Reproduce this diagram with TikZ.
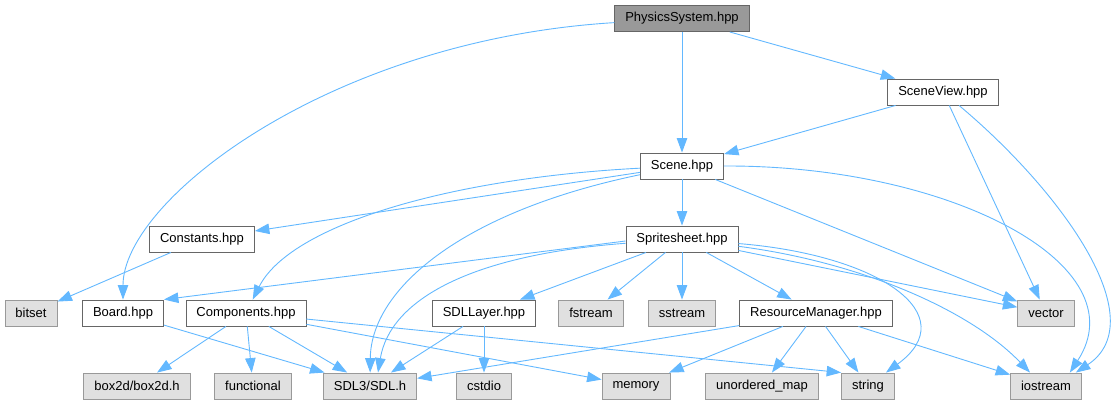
\documentclass[tikz,border=0pt]{standalone}
\usepackage{fontspec}
\setmainfont{Liberation Sans}
\usepackage{xcolor}
\usetikzlibrary{arrows.meta}
\definecolor{edgeblue}{HTML}{63B8FF}
\definecolor{mainfill}{HTML}{999999}
\definecolor{extfill}{HTML}{E0E0E0}
\tikzset{
  file/.style={draw=black!60, fill=white, line width=0.9pt, minimum height=26pt,
    inner xsep=10.5pt, inner ysep=0pt, font=\fontsize{13pt}{15pt}\selectfont},
  mainfile/.style={file, fill=mainfill},
  extfile/.style={file, draw=black!40, fill=extfill},
  dep/.style={-{Triangle[length=14.5pt, width=10.5pt]}, edgeblue, line width=0.9pt},
}
\begin{document}
\begin{tikzpicture}[x=1pt, y=-1pt]
  \path[use as bounding box] (0,0) rectangle (1118,405);
  % headers
  \node[mainfile] (phys) at (682,18.5) {PhysicsSystem.hpp};
  \node[file] (sceneview) at (943,92) {SceneView.hpp};
  \node[file] (scene) at (682,166) {Scene.hpp};
  \node[file] (constants) at (202,239) {Constants.hpp};
  \node[file] (spritesheet) at (682,239) {Spritesheet.hpp};
  \node[file] (board) at (123,313) {Board.hpp};
  \node[file] (components) at (246,313) {Components.hpp};
  \node[file] (sdllayer) at (484,313) {SDLLayer.hpp};
  \node[file] (resmgr) at (816,313) {ResourceManager.hpp};
  % system headers
  \node[extfile] (bitset) at (31,313) {bitset};
  \node[extfile] (fstream) at (591,313) {fstream};
  \node[extfile] (sstream) at (682,313) {sstream};
  \node[extfile] (vector) at (1046,313) {vector};
  \node[extfile] (box2d) at (137,386) {box2d/box2d.h};
  \node[extfile] (functional) at (253,386) {functional};
  \node[extfile] (sdl) at (370,386) {SDL3/SDL.h};
  \node[extfile] (cstdio) at (484,386) {cstdio};
  \node[extfile] (memory) at (636,386) {memory};
  \node[extfile] (umap) at (762,386) {unordered\_map};
  \node[extfile] (string) at (868,386) {string};
  \node[extfile] (iostream) at (1046,386) {iostream};

  % PhysicsSystem.hpp
  \draw[dep] (phys) .. controls (330,40) and (123,200) .. (board);
  \draw[dep] (phys) -- (scene);
  \draw[dep] (phys) -- (sceneview);
  % SceneView.hpp
  \draw[dep] (sceneview) -- (scene);
  \draw[dep] (sceneview) -- (vector);
  \draw[dep] (sceneview) .. controls (1060,190) and (1155,320) .. ([xshift=-6pt]iostream.north east);
  % Scene.hpp
  \draw[dep] (scene) -- (constants);
  \draw[dep] (scene) .. controls (450,178) and (290,225) .. (components);
  \draw[dep] (scene) .. controls (460,212) and (371,290) .. (sdl);
  \draw[dep] (scene) -- (spritesheet);
  \draw[dep] (scene) -- (vector);
  \draw[dep] (scene.east) .. controls (950,165) and (1140,265) .. ([xshift=-12pt]iostream.north east);
  % Constants.hpp
  \draw[dep] (constants) -- (bitset);
  % Spritesheet.hpp
  \draw[dep] ([yshift=-2pt]spritesheet.west) -- (board.north east);
  \draw[dep] (spritesheet) .. controls (470,255) and (390,300) .. ([xshift=8pt]sdl.north);
  \draw[dep] (spritesheet) -- (sdllayer);
  \draw[dep] (spritesheet) -- (fstream);
  \draw[dep] (spritesheet) -- (sstream);
  \draw[dep] (spritesheet) -- (resmgr);
  \draw[dep] (spritesheet) -- (vector);
  \draw[dep] (spritesheet) .. controls (880,255) and (965,315) .. ([xshift=18pt]string.north);
  \draw[dep] (spritesheet) .. controls (860,262) and (970,310) .. ([xshift=-16pt]iostream.north);
  % Board.hpp
  \draw[dep] (board) -- (sdl);
  % Components.hpp
  \draw[dep] (components) -- (box2d);
  \draw[dep] (components) -- (functional);
  \draw[dep] (components) -- (sdl);
  \draw[dep] (components) -- (memory);
  \draw[dep] (components) -- (string.north west);
  % SDLLayer.hpp
  \draw[dep] (sdllayer) -- (sdl);
  \draw[dep] (sdllayer) -- (cstdio);
  % ResourceManager.hpp
  \draw[dep] (resmgr) -- (sdl);
  \draw[dep] (resmgr) -- (memory);
  \draw[dep] (resmgr) -- (umap);
  \draw[dep] (resmgr) -- (string);
  \draw[dep] (resmgr) -- (iostream);
\end{tikzpicture}
\end{document}
